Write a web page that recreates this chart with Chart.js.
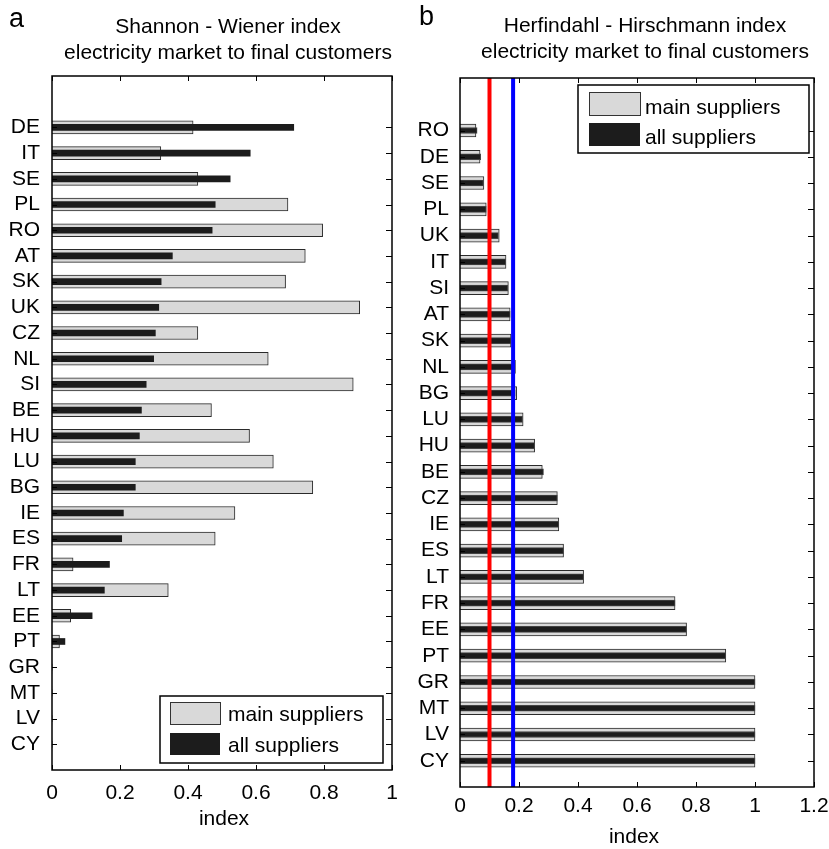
<!DOCTYPE html>
<html><head><meta charset="utf-8">
<script src="https://cdn.jsdelivr.net/npm/chart.js@4.4.1/dist/chart.umd.min.js"></script>
<style>
html,body{margin:0;padding:0;background:#fff;width:829px;height:849px;overflow:hidden}
canvas{position:absolute;top:0}
#ca{left:0}
#cb{left:415px}
</style></head><body>
<canvas id="ca" width="415" height="849"></canvas>
<canvas id="cb" width="414" height="849"></canvas>
<script>
const FONT = '"Liberation Sans", Arial, Helvetica, sans-serif';

// ---- Panel a: Shannon - Wiener index ----
const catsA = ['DE','IT','SE','PL','RO','AT','SK','UK','CZ','NL','SI','BE','HU','LU','BG','IE','ES','FR','LT','EE','PT','GR','MT','LV','CY'];
const mainA = [0.415,0.320,0.429,0.694,0.796,0.745,0.687,0.905,0.429,0.636,0.886,0.469,0.581,0.651,0.767,0.538,0.480,0.062,0.342,0.055,0.022,0,0,0,0];
const allA  = [0.711,0.583,0.524,0.480,0.471,0.354,0.321,0.314,0.304,0.299,0.277,0.263,0.257,0.245,0.245,0.210,0.205,0.169,0.154,0.118,0.038,0,0,0,0];
const xTicksA = [0,0.2,0.4,0.6,0.8,1];

// ---- Panel b: Herfindahl - Hirschmann index ----
const catsB = ['RO','DE','SE','PL','UK','IT','SI','AT','SK','NL','BG','LU','HU','BE','CZ','IE','ES','LT','FR','EE','PT','GR','MT','LV','CY'];
const mainB = [0.054,0.068,0.081,0.089,0.133,0.156,0.164,0.170,0.173,0.188,0.192,0.214,0.253,0.279,0.330,0.335,0.351,0.419,0.729,0.768,0.901,1,1,1,1];
const allB  = [0.058,0.070,0.079,0.089,0.130,0.155,0.162,0.170,0.173,0.180,0.187,0.212,0.253,0.283,0.330,0.335,0.351,0.419,0.729,0.768,0.901,1,1,1,1];
const xTicksB = [0,0.2,0.4,0.6,0.8,1,1.2];
const thresholdsB = [0.10, 0.18];
const thresholdColors = ['#ff0000','#0000ff'];

const seriesNames = ['main suppliers','all suppliers'];

function overlayPlugin(cfg) {
  return {
    id: 'overlay',
    afterDatasetsDraw(chart) {
      if (!cfg.thresholds) return;
      const ctx = chart.ctx, a = chart.chartArea, xs = chart.scales.x;
      ctx.save();
      cfg.thresholds.forEach((t, i) => {
        const px = xs.getPixelForValue(t);
        ctx.strokeStyle = cfg.thresholdColors[i];
        ctx.lineWidth = 4;
        ctx.beginPath(); ctx.moveTo(px, a.top); ctx.lineTo(px, a.bottom); ctx.stroke();
      });
      ctx.restore();
    },
    afterDraw(chart) {
      const ctx = chart.ctx, a = chart.chartArea, xs = chart.scales.x, ys = chart.scales.y;
      ctx.save();
      // ticks (inward)
      ctx.strokeStyle = '#000'; ctx.lineWidth = 1;
      cfg.xTicks.forEach(v => {
        const px = Math.round(xs.getPixelForValue(v)) + 0.5;
        ctx.beginPath(); ctx.moveTo(px, a.bottom); ctx.lineTo(px, a.bottom - 5);
        ctx.moveTo(px, a.top); ctx.lineTo(px, a.top + 5); ctx.stroke();
      });
      cfg.cats.forEach((c, i) => {
        const py = Math.round(ys.getPixelForValue(i)) + 0.5;
        ctx.beginPath(); ctx.moveTo(a.left, py); ctx.lineTo(a.left + 5, py);
        ctx.moveTo(a.right, py); ctx.lineTo(a.right - 6, py); ctx.stroke();
      });
      // box
      ctx.lineWidth = 1.5;
      ctx.strokeRect(a.left, a.top, a.right - a.left, a.bottom - a.top);
      // texts
      ctx.fillStyle = '#000';
      ctx.textBaseline = 'alphabetic';
      ctx.font = '27px ' + FONT; ctx.textAlign = 'left';
      ctx.fillText(cfg.letter, cfg.letterX, cfg.letterY);
      ctx.font = '21px ' + FONT; ctx.textAlign = 'center';
      ctx.fillText(cfg.title[0], cfg.titleX, cfg.titleY[0]);
      ctx.fillText(cfg.title[1], cfg.titleX, cfg.titleY[1]);
      ctx.fillText('index', cfg.xlabX, cfg.xlabY);
      // legend
      const L = cfg.legend;
      ctx.fillStyle = '#fff';
      ctx.fillRect(L.x, L.y, L.w, L.h);
      ctx.lineWidth = 1.5; ctx.strokeStyle = '#000';
      ctx.strokeRect(L.x, L.y, L.w, L.h);
      ctx.lineWidth = 1;
      ctx.fillStyle = '#d9d9d9'; ctx.fillRect(L.sx, L.s1y, L.sw, L.sh);
      ctx.strokeStyle = '#333'; ctx.strokeRect(L.sx + 0.5, L.s1y + 0.5, L.sw, L.sh);
      ctx.fillStyle = '#1c1c1c'; ctx.fillRect(L.sx, L.s2y, L.sw, L.sh);
      ctx.fillStyle = '#000'; ctx.textAlign = 'left';
      ctx.fillText(seriesNames[0], L.tx, L.t1y);
      ctx.fillText(seriesNames[1], L.tx, L.t2y);
      ctx.restore();
    }
  };
}

function makeChart(id, cats, main, all, xTicks, xMax, g, cfg) {
  const idx = cats.map((_, i) => i);
  return new Chart(document.getElementById(id), {
    type: 'bar',
    data: { datasets: [
      { label: seriesNames[1], data: all.map((v, i) => ({x: v, y: i})),
        backgroundColor: '#1c1c1c', borderColor: '#444', borderWidth: g.allBorder,
        barThickness: 6, maxBarThickness: 6, grouped: false, order: 0 },
      { label: seriesNames[0], data: main.map((v, i) => ({x: v, y: i})),
        backgroundColor: '#d9d9d9', borderColor: '#2a2a2a',
        borderWidth: ctx => (ctx.raw && ctx.raw.x > 0 ? 1 : 0),
        barThickness: 13, maxBarThickness: 13, grouped: false, order: 1 }
    ]},
    options: {
      indexAxis: 'y', responsive: false, animation: false,
      layout: { padding: { left: 0, top: g.top, right: g.right, bottom: 0 } },
      plugins: { legend: { display: false }, tooltip: { enabled: false }, title: { display: false } },
      scales: {
        x: { type: 'linear', min: 0, max: xMax, offset: false,
             grid: { display: false, drawTicks: false, tickLength: 0 }, border: { display: false },
             afterBuildTicks: s => { s.ticks = xTicks.map(v => ({ value: v })); },
             afterFit: s => { s.height = g.xh; s.paddingLeft = 0; s.paddingRight = 0; },
             ticks: { padding: g.xpad, color: '#000', font: { family: FONT, size: 21 }, maxRotation: 0, autoSkip: false,
                      callback: v => String(+v.toFixed(1)) } },
        y: { type: 'linear', min: -2, max: cats.length, reverse: true, offset: false,
             grid: { display: false, drawTicks: false, tickLength: 0 }, border: { display: false },
             afterBuildTicks: s => { s.ticks = idx.map(v => ({ value: v })); },
             afterFit: s => { s.width = g.yw; s.paddingTop = 0; s.paddingBottom = 0; },
             ticks: { padding: g.ypad, color: '#000', font: { family: FONT, size: 21 }, autoSkip: false,
                      callback: v => (cats[v] !== undefined ? cats[v] : '') } }
      }
    },
    plugins: [overlayPlugin(cfg)]
  });
}

makeChart('ca', catsA, mainA, allA, xTicksA, 1,
  { top: 76, right: 23, xh: 79, yw: 52, xpad: 11, ypad: 12, allBorder: 0 },
  { cats: catsA, xTicks: xTicksA, letter: 'a', letterX: 9, letterY: 27,
    title: ['Shannon - Wiener index', 'electricity market to final customers'], titleX: 228, titleY: [33, 59],
    xlabX: 224, xlabY: 825,
    legend: { x: 160, y: 696, w: 223, h: 67, sx: 170, sw: 50, sh: 22, s1y: 702, s2y: 733, tx: 228, t1y: 721, t2y: 752 } });

makeChart('cb', catsB, mainB, allB, xTicksB, 1.2,
  { top: 78, right: 15, xh: 62, yw: 45, xpad: 7, ypad: 11, allBorder: 1 },
  { cats: catsB, xTicks: xTicksB, letter: 'b', letterX: 4, letterY: 25,
    title: ['Herfindahl - Hirschmann index', 'electricity market to final customers'], titleX: 230, titleY: [32, 58],
    xlabX: 219, xlabY: 843,
    thresholds: thresholdsB, thresholdColors: thresholdColors,
    legend: { x: 163, y: 85, w: 231, h: 68, sx: 174, sw: 51, sh: 23, s1y: 92, s2y: 123, tx: 230, t1y: 114, t2y: 144 } });
</script>
</body></html>
